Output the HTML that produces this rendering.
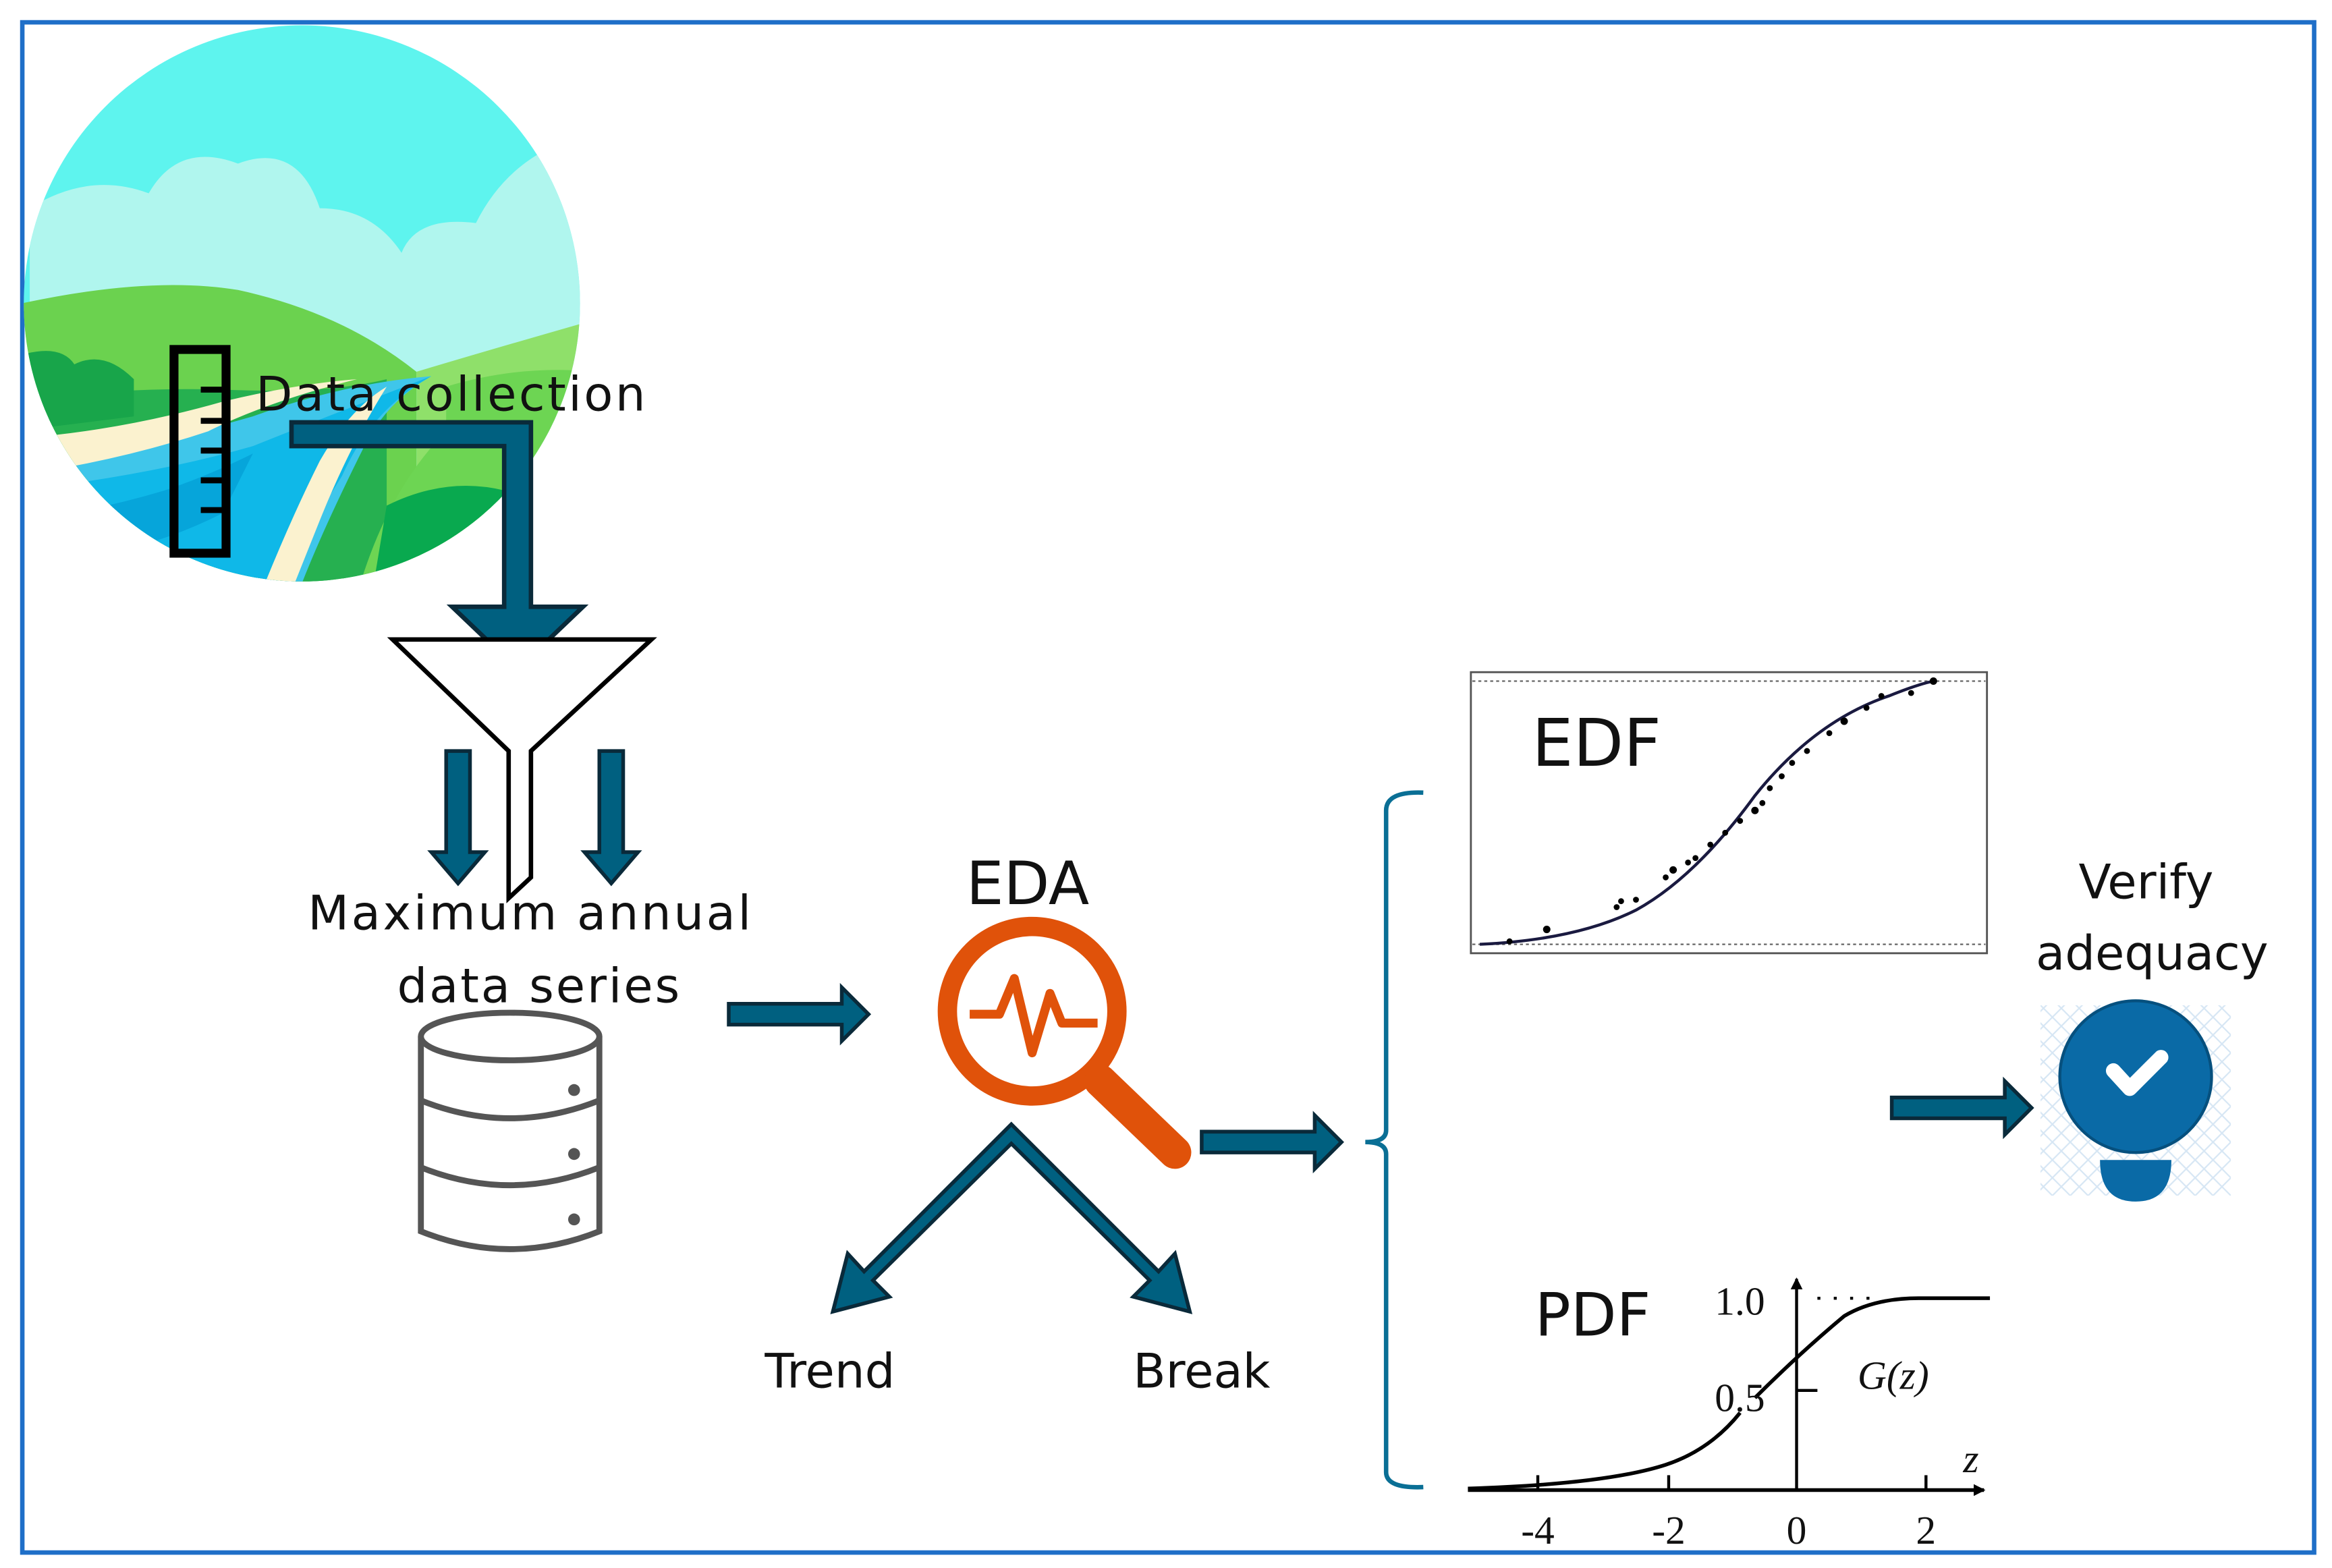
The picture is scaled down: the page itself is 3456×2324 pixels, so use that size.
<!DOCTYPE html>
<html><head><meta charset="utf-8"><style>html,body{margin:0;padding:0;background:#fff}svg{display:block}</style></head>
<body>
<svg width="3456" height="2324" viewBox="0 0 1568 1054.4" xmlns="http://www.w3.org/2000/svg" font-family="DejaVu Sans, Liberation Sans, sans-serif">
<defs>
<clipPath id="cc"><circle cx="203" cy="204" r="187"/></clipPath>
<marker id="m" markerWidth="8" markerHeight="8" refX="7" refY="4" orient="auto" markerUnits="userSpaceOnUse"><path d="M0,0 L8,4 L0,8 Z" fill="#000"/></marker>
<pattern id="hatch" width="12" height="12" patternUnits="userSpaceOnUse"><path d="M0,0 L12,12 M12,0 L0,12" stroke="#d6e6f4" stroke-width="1"/></pattern>
</defs>
<rect x="0" y="0" width="1568" height="1055" fill="#fff"/>
<rect x="15" y="15" width="1541" height="1029" fill="none" stroke="#1f6fc8" stroke-width="3"/>

<!-- landscape circle -->
<g clip-path="url(#cc)">
<rect x="10" y="10" width="400" height="400" fill="#5ef4ee"/>
<path d="M20,140 Q60,115 100,130 Q120,95 160,110 Q200,95 215,140 Q250,140 270,170 Q280,145 320,150 Q340,110 380,95 L400,100 L400,260 L20,260 Z" fill="#b0f6ee"/>
<path d="M10,205 Q100,185 160,195 Q230,210 280,250 L280,400 L10,400 Z" fill="#6bd24f"/>
<path d="M280,250 Q330,235 400,215 L400,400 L280,400 Z" fill="#8fe06a"/>
<path d="M10,270 Q80,260 150,262 Q220,265 260,255 L260,400 L10,400 Z" fill="#26b050"/>
<path d="M10,240 Q40,230 50,245 Q70,235 90,255 L90,280 L10,290 Z" fill="#18a54a"/>
<path d="M300,260 Q350,245 400,250 L400,400 L240,400 Q260,330 300,290 Z" fill="#6dd553"/>
<path d="M260,340 Q300,320 340,330 L390,330 L390,400 L250,400 Z" fill="#09a94f"/>
<path d="M10,320 Q100,300 170,280 Q230,258 290,253 Q260,270 245,300 Q215,360 200,400 L140,400 Q120,380 60,370 L10,360 Z" fill="#3fc6ea"/>
<path d="M10,330 Q100,320 170,300 Q220,280 290,253 Q250,275 230,320 L180,400 L100,400 Q60,380 10,375 Z" fill="#0fb8e8"/>
<path d="M10,295 Q80,290 150,270 Q200,258 240,255 Q180,270 140,290 Q80,310 10,320 Z" fill="#fbf2cf"/>
<path d="M260,260 Q235,300 215,350 Q205,375 195,400 L175,400 Q195,350 215,310 Q235,275 260,260 Z" fill="#fbf2cf"/>
<path d="M10,350 Q60,345 110,330 Q140,320 170,305 L150,345 Q100,370 60,372 Z" fill="#0097d0" opacity="0.6"/>
</g>

<!-- ruler -->
<rect x="117" y="235" width="35" height="137" fill="none" stroke="#000" stroke-width="6"/>
<g stroke="#000" stroke-width="4"><line x1="135" y1="262" x2="150" y2="262"/><line x1="135" y1="283" x2="150" y2="283"/><line x1="135" y1="303" x2="150" y2="303"/><line x1="135" y1="323" x2="150" y2="323"/><line x1="135" y1="343" x2="150" y2="343"/></g>
<text x="172" y="276" font-size="32" fill="#111" textLength="262">Data collection</text>

<!-- L arrow -->
<path d="M196,284 L357,284 L357,408 L392,408 L348,450 L304,408 L339,408 L339,300 L196,300 Z" fill="#006080" stroke="#0a2a3a" stroke-width="3"/>

<!-- funnel -->
<path d="M264,430 L438,430 L357,505 L357,590 L342,604 L342,505 Z" fill="#fff" stroke="#000" stroke-width="3"/>
<path d="M300,505 L316,505 L316,573 L326,573 L308,594 L290,573 L300,573 Z" fill="#006080" stroke="#0a2a3a" stroke-width="2.5"/>
<path d="M403,505 L419,505 L419,573 L429,573 L411,594 L393,573 L403,573 Z" fill="#006080" stroke="#0a2a3a" stroke-width="2.5"/>

<text x="356" y="625" font-size="32" text-anchor="middle" fill="#111" textLength="298">Maximum annual</text>
<text x="362" y="674" font-size="32" text-anchor="middle" fill="#111" textLength="190">data series</text>

<!-- database -->
<g fill="#fff" stroke="#555" stroke-width="4">
<path d="M283,697 L283,828 Q343,852 403,828 L403,697"/>
<ellipse cx="343" cy="697" rx="60" ry="16"/>
<path d="M283,740 Q343,764 403,740"/>
<path d="M283,785 Q343,809 403,785"/>
</g>
<g fill="#555"><circle cx="386" cy="733" r="4"/><circle cx="386" cy="776" r="4"/><circle cx="386" cy="820" r="4"/></g>

<path d="M490,675 L566,675 L566,664 L584,682 L566,700 L566,689 L490,689 Z" fill="#006080" stroke="#0a2a3a" stroke-width="2.5"/>

<text x="691" y="608" font-size="40" text-anchor="middle" fill="#111">EDA</text>
<circle cx="694" cy="680" r="57" fill="none" stroke="#e0520a" stroke-width="13"/>
<line x1="740" y1="727" x2="790" y2="775" stroke="#e0520a" stroke-width="22" stroke-linecap="round"/>
<polyline points="652,682 672,682 682,658 694,708 706,668 714,688 738,688" fill="none" stroke="#e0520a" stroke-width="6" stroke-linejoin="round"/>

<path d="M680,756 L779,855 L790,843 L800,882 L762,872 L773,861 L680,769 L587,861 L598,872 L560,882 L570,843 L581,855 Z" fill="#006080" stroke="#0a2a3a" stroke-width="2.5"/>
<text x="558" y="933" font-size="32" text-anchor="middle" fill="#111">Trend</text>
<text x="808" y="933" font-size="32" text-anchor="middle" fill="#111">Break</text>

<path d="M808,761 L884,761 L884,750 L902,768 L884,786 L884,775 L808,775 Z" fill="#006080" stroke="#0a2a3a" stroke-width="2.5"/>

<path d="M957,533 Q932,532 932,545 L932,760 Q932,768 918,768 Q932,768 932,776 L932,990 Q932,1001 957,1000" fill="none" stroke="#0a6f95" stroke-width="3"/>

<!-- EDF -->
<rect x="989" y="452" width="347" height="189" fill="#fff" stroke="#555" stroke-width="1.3"/>
<line x1="990" y1="458" x2="1335" y2="458" stroke="#666" stroke-dasharray="2,2"/>
<line x1="990" y1="635" x2="1335" y2="635" stroke="#666" stroke-dasharray="2,2"/>
<path d="M995,635 Q1060,632 1100,612 Q1140,590 1180,535 Q1220,485 1270,468 Q1290,460 1300,458" fill="none" stroke="#1a1a40" stroke-width="2"/>
<g fill="#000"><circle cx="1015" cy="633" r="2"/><circle cx="1040" cy="625" r="2.5"/><circle cx="1087" cy="610" r="2"/><circle cx="1090" cy="606" r="2"/><circle cx="1100" cy="605" r="2"/><circle cx="1120" cy="590" r="2"/><circle cx="1125" cy="585" r="2.5"/><circle cx="1135" cy="580" r="2"/><circle cx="1140" cy="577" r="2"/><circle cx="1150" cy="568" r="2"/><circle cx="1160" cy="560" r="2"/><circle cx="1170" cy="552" r="2"/><circle cx="1180" cy="545" r="2.5"/><circle cx="1185" cy="540" r="2"/><circle cx="1190" cy="530" r="2"/><circle cx="1198" cy="522" r="2"/><circle cx="1205" cy="513" r="2"/><circle cx="1215" cy="505" r="2"/><circle cx="1230" cy="493" r="2"/><circle cx="1240" cy="485" r="2.5"/><circle cx="1255" cy="476" r="2"/><circle cx="1265" cy="468" r="2"/><circle cx="1285" cy="466" r="2"/><circle cx="1300" cy="458" r="2.5"/></g>
<text x="1030" y="515" font-size="44" fill="#111">EDF</text>

<!-- PDF -->
<line x1="987" y1="1002" x2="1334" y2="1002" stroke="#000" stroke-width="2.5" marker-end="url(#m)"/>
<line x1="1208" y1="1002" x2="1208" y2="860" stroke="#000" stroke-width="2" marker-end="url(#m)"/>
<g stroke="#000" stroke-width="2"><line x1="1034" y1="1002" x2="1034" y2="992"/><line x1="1122" y1="1002" x2="1122" y2="992"/><line x1="1295" y1="1002" x2="1295" y2="992"/><line x1="1208" y1="935" x2="1222" y2="935"/></g>
<path d="M987,1001 Q1080,998 1120,985 Q1150,975 1170,950" fill="none" stroke="#000" stroke-width="2.5"/>
<path d="M1180,940 Q1210,910 1240,885 Q1260,873 1290,873 L1338,873" fill="none" stroke="#000" stroke-width="2.5"/>
<line x1="1222" y1="873" x2="1265" y2="873" stroke="#000" stroke-width="2" stroke-dasharray="2,9"/>
<text x="1032" y="898" font-size="40" fill="#111">PDF</text>
<g font-family="Liberation Serif, serif" font-size="27" fill="#111">
<text x="1153" y="884">1.0</text>
<text x="1153" y="949">0.5</text>
<text x="1249" y="934" font-style="italic">G(z)</text>
<text x="1320" y="990" font-style="italic">z</text>
<text x="1034" y="1038" text-anchor="middle">-4</text>
<text x="1122" y="1038" text-anchor="middle">-2</text>
<text x="1208" y="1038" text-anchor="middle">0</text>
<text x="1295" y="1038" text-anchor="middle">2</text>
</g>

<!-- verify -->
<text x="1443" y="604" font-size="32" text-anchor="middle" fill="#111">Verify</text>
<text x="1447" y="652" font-size="32" text-anchor="middle" fill="#111">adequacy</text>
<path d="M1272,738 L1348,738 L1348,727 L1366,745 L1348,763 L1348,752 L1272,752 Z" fill="#006080" stroke="#0a2a3a" stroke-width="2.5"/>
<rect x="1372" y="676" width="128" height="128" fill="url(#hatch)"/>
<circle cx="1436" cy="724" r="51" fill="#0a6aa6" stroke="#06507e" stroke-width="2"/>
<path d="M1412,780 L1460,780 Q1460,808 1436,808 Q1412,808 1412,780 Z" fill="#0a6aa6"/>
<polyline points="1421,720 1432,732 1453,711" fill="none" stroke="#fff" stroke-width="10" stroke-linecap="round" stroke-linejoin="round"/>
</svg>
</body></html>
